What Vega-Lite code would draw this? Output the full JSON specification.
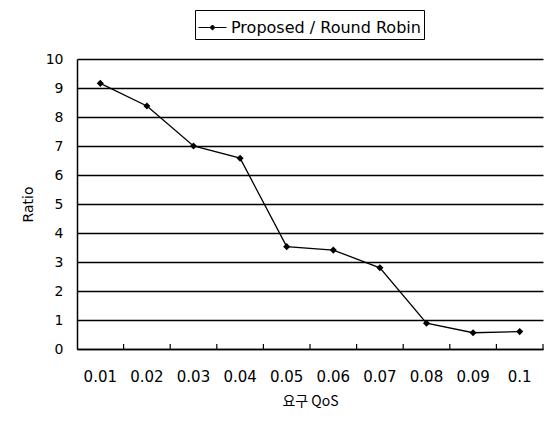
{
  "$schema": "https://vega.github.io/schema/vega-lite/v6.json",
  "autosize": {"type": "none"},
  "width": 466,
  "height": 290,
  "padding": {"left": 77, "top": 59, "right": 8, "bottom": 73},
  "background": "white",
  "data": {
    "values": [
      {"qos": "0.01", "ratio": 9.16, "series": "Proposed / Round Robin"},
      {"qos": "0.02", "ratio": 8.38, "series": "Proposed / Round Robin"},
      {"qos": "0.03", "ratio": 7.0, "series": "Proposed / Round Robin"},
      {"qos": "0.04", "ratio": 6.58, "series": "Proposed / Round Robin"},
      {"qos": "0.05", "ratio": 3.53, "series": "Proposed / Round Robin"},
      {"qos": "0.06", "ratio": 3.41, "series": "Proposed / Round Robin"},
      {"qos": "0.07", "ratio": 2.8, "series": "Proposed / Round Robin"},
      {"qos": "0.08", "ratio": 0.89, "series": "Proposed / Round Robin"},
      {"qos": "0.09", "ratio": 0.56, "series": "Proposed / Round Robin"},
      {"qos": "0.1", "ratio": 0.6, "series": "Proposed / Round Robin"}
    ]
  },
  "encoding": {
    "x": {
      "field": "qos",
      "type": "ordinal",
      "sort": null,
      "scale": {"type": "band", "paddingInner": 0, "paddingOuter": 0},
      "axis": {
        "title": "요구 QoS",
        "titleFont": "Noto Sans CJK KR",
        "titleFontSize": 14,
        "titleFontWeight": "normal",
        "titleColor": "black",
        "titlePadding": 10,
        "labelAngle": 0,
        "labelFont": "DejaVu Sans",
        "labelFontSize": 15,
        "labelColor": "black",
        "labelPadding": 20,
        "ticks": false,
        "domainColor": "black",
        "domainWidth": 1.5,
        "grid": false
      }
    },
    "color": {
      "field": "series",
      "type": "nominal",
      "scale": {"range": ["black"]},
      "legend": {
        "title": null,
        "orient": "none",
        "legendX": 118,
        "legendY": -49,
        "direction": "horizontal",
        "strokeColor": "black",
        "fillColor": "white",
        "padding": 3,
        "labelLimit": 0,
        "symbolType": "M-1,0L-0.18,0M0.18,0L1,0M0,-0.18L0.18,0L0,0.18L-0.18,0Z",
        "symbolSize": 784,
        "symbolStrokeWidth": 1,
        "symbolStrokeColor": "black",
        "symbolFillColor": "black",
        "labelFont": "DejaVu Sans",
        "labelFontSize": 16,
        "labelColor": "black",
        "labelOffset": 4
      }
    }
  },
  "layer": [
    {
      "mark": {"type": "line", "strokeWidth": 1.3},
      "encoding": {
        "y": {
          "field": "ratio",
          "type": "quantitative",
          "scale": {"domain": [0, 10], "nice": false},
          "axis": {
            "title": "Ratio",
            "titleFont": "DejaVu Sans",
            "titleFontSize": 14,
            "titleFontWeight": "normal",
            "titleColor": "black",
            "titlePadding": 10,
            "values": [0, 1, 2, 3, 4, 5, 6, 7, 8, 9, 10],
            "labelFont": "DejaVu Sans",
            "labelFontSize": 14,
            "labelColor": "black",
            "labelPadding": 14,
            "ticks": false,
            "domain": true,
            "domainColor": "black",
            "domainWidth": 1.5,
            "grid": true,
            "gridColor": "black",
            "gridWidth": 1.5,
            "gridOpacity": 1
          }
        }
      }
    },
    {
      "mark": {"type": "point", "shape": "diamond", "filled": true, "size": 50, "opacity": 1},
      "encoding": {"y": {"field": "ratio", "type": "quantitative", "axis": null}}
    },
    {
      "mark": {"type": "rule", "strokeWidth": 1.2},
      "encoding": {
        "x": {"field": "qos", "type": "ordinal", "sort": null, "bandPosition": 1},
        "y": {"datum": 0, "type": "quantitative", "axis": null},
        "y2": {"datum": 0.17}
      }
    }
  ],
  "resolve": {"axis": {"y": "independent"}},
  "config": {"view": {"stroke": null}}
}
